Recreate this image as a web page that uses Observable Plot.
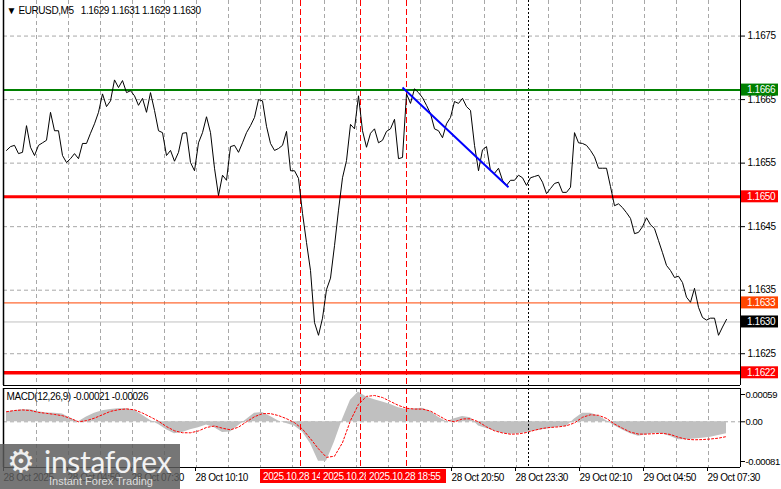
<!DOCTYPE html>
<html><head><meta charset="utf-8">
<script src="https://cdn.jsdelivr.net/npm/d3@7"></script>
<script src="https://cdn.jsdelivr.net/npm/@observablehq/plot@0.6"></script>
<style>
body{margin:0;background:#fff;}
#wrap{position:relative;width:781px;height:489px;overflow:hidden;background:#fff;}
#main,#macd{position:absolute;left:0;}
#main{top:0;}
#macd{top:387px;}
#main svg text,#macd svg text{letter-spacing:-0.4px;}
#logo{position:absolute;left:0;top:444px;width:180px;height:45px;background:rgba(92,92,92,0.84);color:#f0f0f0;overflow:hidden;}
#logo .gear{position:absolute;left:7px;top:2px;font:31px/1 "DejaVu Sans";color:#eee;}
#logo .brand{position:absolute;left:44px;top:-1px;font:30px/1.2 Lato,"Open Sans",sans-serif;color:#f2f2f2;letter-spacing:-0.3px;}
#logo .tag{position:absolute;left:49px;top:31px;font:11px/1.2 "Liberation Sans",Arial,sans-serif;color:#ddd;}
</style></head>
<body>
<div id="wrap"><div id="main"></div><div id="macd"></div>
<div id="logo"><span class="gear">⚙</span><span class="brand">instaforex</span><span class="tag">Instant Forex Trading</span></div>
</div>
<script>
// ---------- data ----------
const symbolTitle = "▼ EURUSD,M5\u00a0\u00a0 1.1629 1.1631 1.1629 1.1630";
const macdTitle = "MACD(12,26,9) -0.00021 -0.00026";

const closeStart = "2025-10-28T02:15:00Z";
const closeStepMinutes = 10;
const closes = [
1.16570,1.16576,1.16578,1.16565,1.16567,1.16609,1.16575,1.16562,1.16578,1.16582,
1.16586,1.16630,1.16601,1.16601,1.16562,1.16551,1.16557,1.16565,1.16557,1.16581,
1.16581,1.16597,1.16612,1.16630,1.16659,1.16639,1.16648,1.16681,1.16669,1.16680,
1.16661,1.16664,1.16656,1.16641,1.16652,1.16630,1.16661,1.16633,1.16601,1.16598,
1.16562,1.16570,1.16553,1.16567,1.16597,1.16598,1.16551,1.16538,1.16582,1.16598,
1.16623,1.16598,1.16542,1.16499,1.16531,1.16523,1.16576,1.16578,1.16567,1.16582,
1.16598,1.16609,1.16622,1.16650,1.16648,1.16608,1.16581,1.16570,1.16573,1.16578,
1.16600,1.16538,1.16538,1.16526,1.16471,1.16425,1.16381,1.16299,1.16279,1.16306,
1.16351,1.16369,1.16420,1.16476,1.16527,1.16554,1.16611,1.16604,1.16656,1.16601,
1.16575,1.16597,1.16604,1.16582,1.16586,1.16600,1.16604,1.16619,1.16557,1.16559,
1.16659,1.16644,1.16667,1.16661,1.16653,1.16641,1.16628,1.16604,1.16601,1.16590,
1.16612,1.16622,1.16647,1.16644,1.16652,1.16639,1.16633,1.16578,1.16538,1.16571,
1.16576,1.16538,1.16534,1.16542,1.16523,1.16515,1.16523,1.16523,1.16531,1.16527,
1.16515,1.16527,1.16529,1.16531,1.16520,1.16502,1.16510,1.16518,1.16520,1.16504,
1.16504,1.16512,1.16598,1.16582,1.16581,1.16578,1.16570,1.16560,1.16542,1.16542,
1.16542,1.16513,1.16483,1.16486,1.16480,1.16472,1.16463,1.16439,1.16441,1.16450,
1.16464,1.16453,1.16447,1.16428,1.16409,1.16389,1.16381,1.16370,1.16372,1.16362,
1.16339,1.16331,1.16353,1.16323,1.16307,1.16303,1.16306,1.16306,1.16279,1.16292,
1.16304];

const macdStart = "2025-10-28T02:15:00Z";
const macdStepMinutes = 20;
const macdHist = [
0.000175,0.000195,0.000212,0.000212,0.000178,0.000158,0.000152,0.000140,0.000065,0.000000,
0.000085,0.000150,0.000195,0.000218,0.000230,0.000230,0.000205,0.000118,0.000025,-0.000048,
-0.000140,-0.000210,-0.000190,-0.000140,-0.000105,-0.000055,-0.000105,-0.000190,-0.000180,-0.000070,
0.000040,0.000150,0.000165,0.000095,0.000015,-0.000030,-0.000075,-0.000180,-0.000390,-0.000700,
-0.000700,-0.000360,0.000040,0.000380,0.000530,0.000440,0.000390,0.000352,0.000306,0.000250,
0.000218,0.000230,0.000240,0.000182,0.000080,0.000000,0.000055,0.000092,0.000071,-0.000075,
-0.000118,-0.000165,-0.000205,-0.000222,-0.000210,-0.000188,-0.000162,-0.000140,-0.000115,-0.000094,
-0.000083,0.000050,0.000150,0.000150,0.000105,0.000020,-0.000070,-0.000145,-0.000212,-0.000258,
-0.000230,-0.000202,-0.000210,-0.000260,-0.000319,-0.000319,-0.000306,-0.000292,-0.000276,-0.000245,
-0.000210];
const macdSignal = [
0.000178,0.000200,0.000210,0.000200,0.000166,0.000150,0.000130,0.000108,0.000060,0.000000,
0.000020,0.000065,0.000125,0.000185,0.000214,0.000228,0.000212,0.000155,0.000085,0.000010,
-0.000085,-0.000160,-0.000194,-0.000195,-0.000162,-0.000100,-0.000075,-0.000114,-0.000142,-0.000095,
0.000000,0.000090,0.000145,0.000145,0.000110,0.000055,-0.000015,-0.000130,-0.000300,-0.000480,
-0.000630,-0.000610,-0.000370,0.000023,0.000310,0.000450,0.000466,0.000430,0.000360,0.000290,
0.000240,0.000225,0.000225,0.000190,0.000110,0.000030,0.000000,0.000050,0.000053,0.000000,
-0.000090,-0.000160,-0.000198,-0.000220,-0.000215,-0.000190,-0.000150,-0.000117,-0.000100,-0.000090,
-0.000070,-0.000020,0.000080,0.000124,0.000115,0.000060,-0.000040,-0.000115,-0.000184,-0.000218,
-0.000218,-0.000210,-0.000205,-0.000225,-0.000275,-0.000310,-0.000319,-0.000315,-0.000305,-0.000290,
-0.000262];

const priceTicks = [1.1625, 1.1635, 1.1645, 1.1655, 1.1665, 1.1675];
const levelPrices = [1.16665, 1.16497, 1.1633, 1.1630, 1.1622];
const levelLabels = ["1.1666", "1.1650", "1.1633", "1.1630", "1.1622"];
const levelNames = ["resistance", "support", "ask", "bid", "target"];
const macdTicks = [0.00059, 0, -0.00081];
const macdTickLabels = ["0.00059", "0.00", "-0.00081"];

const xTickTimes = ["2025-10-28T02:10:00Z","2025-10-28T04:50:00Z","2025-10-28T07:30:00Z","2025-10-28T10:10:00Z",
  "2025-10-28T20:50:00Z","2025-10-28T23:30:00Z","2025-10-29T02:10:00Z","2025-10-29T04:50:00Z","2025-10-29T07:30:00Z"];
const xTickLabels = ["28 Oct 2025","28 Oct 04:50","28 Oct 07:30","28 Oct 10:10",
  "28 Oct 20:50","28 Oct 23:30","29 Oct 02:10","29 Oct 04:50","29 Oct 07:30"];

const markerTimes = ["2025-10-28T14:30:00Z","2025-10-28T17:00:00Z","2025-10-28T18:55:00Z"];
const markerLabels = ["2025.10.28 14:30","2025.10.28 17:00","2025.10.28 18:55"];
const daySeparatorTime = "2025-10-29T00:00:00Z";

const trendTimes = ["2025-10-28T18:45:00Z","2025-10-28T23:10:00Z"];
const trendPrices = [1.16669, 1.16512];

// ---------- build tables ----------
const MIN = 60000;
const closeData = closes.map((v, i) => ({t: new Date(Date.parse(closeStart) + i * closeStepMinutes * MIN), v}));
const macdData = macdHist.map((h, i) => ({t: new Date(Date.parse(macdStart) + i * macdStepMinutes * MIN), hist: h, signal: macdSignal[i]}));
const markerDates = markerTimes.map(s => new Date(s));
const xTickDates = xTickTimes.map(s => new Date(s));
const tickLabelByTime = new Map(xTickDates.map((d, i) => [+d, xTickLabels[i]]));
const trend = [{x1: new Date(trendTimes[0]), y1: trendPrices[0], x2: new Date(trendTimes[1]), y2: trendPrices[1]}];

// ---------- styles ----------
const FONT = '"Liberation Sans", Arial, sans-serif';
const levelStyle = {
  resistance: {stroke: "#008000", width: 2, bg: "#008000", fg: "#ffffff"},
  support: {stroke: "#ff0000", width: 3, bg: "#ff0000", fg: "#ffffff"},
  ask: {stroke: "#ff4500", width: 1, bg: "#ff4500", fg: "#ffffff"},
  bid: {stroke: "#c0c0c0", width: 1, bg: "#000000", fg: "#ffffff"},
  target: {stroke: "#ff0000", width: 3.5, bg: "#ff0000", fg: "#ffffff"}
};
const xDomain = [new Date(Date.UTC(2025, 9, 28, 2, 7, 30)), new Date(Date.UTC(2025, 9, 29, 8, 50))];
const yDomain = [1.16200, 1.16806];
const macdDomain = [-0.00081, 0.00059];
const gridTimes = [];
for (let t = Date.UTC(2025, 9, 28, 3, 30); t < +xDomain[1]; t += 80 * MIN) gridTimes.push(new Date(t));
const grid = () => ({stroke: "#a8a8a8", strokeDasharray: "4,3", strokeWidth: 1, strokeOpacity: 1});
const fmt4 = d3.format(".4f");

// price tags in right margin
const priceTagMark = (index, scales, values, dim) => {
  const g = d3.create("svg:g").attr("font-family", FONT).attr("font-size", 10).attr("text-anchor", "start");
  const x0 = dim.width - dim.marginRight + 1;
  levelPrices.forEach((p, i) => {
    const s = levelStyle[levelNames[i]];
    const y = scales.y(p);
    g.append("rect").attr("x", x0).attr("y", y - 6).attr("width", 37).attr("height", 12).attr("fill", s.bg);
    g.append("text").attr("x", x0 + 6).attr("y", y).attr("dy", "0.36em").attr("fill", s.fg).text(levelLabels[i]);
  });
  return g.node();
};

const main = Plot.plot({
  width: 781, height: 387,
  marginLeft: 3, marginRight: 41, marginTop: 0, marginBottom: 2,
  x: {type: "utc", domain: xDomain, axis: null, label: null},
  y: {domain: yDomain, axis: null, label: null},
  style: {fontFamily: FONT, fontSize: "10px", background: "transparent", color: "black", overflow: "visible"},
  marks: [
    Plot.ruleY(priceTicks, grid()),
    Plot.ruleX(gridTimes, grid()),
    Plot.ruleX(markerDates, {stroke: "#ff0000", strokeDasharray: "6,3", strokeWidth: 1}),
    Plot.ruleX([new Date(daySeparatorTime)], {stroke: "#000", strokeDasharray: "2,2", strokeWidth: 1}),
    ...levelPrices.map((p, i) => Plot.ruleY([p], {stroke: levelStyle[levelNames[i]].stroke, strokeWidth: levelStyle[levelNames[i]].width})),
    Plot.line(closeData, {x: "t", y: "v", stroke: "#000", strokeWidth: 1}),
    Plot.link(trend, {x1: "x1", y1: "y1", x2: "x2", y2: "y2", stroke: "#0000ff", strokeWidth: 2}),
    Plot.ruleX([xDomain[0]], {stroke: "#000", strokeWidth: 1.5}),
    Plot.ruleX([xDomain[1]], {stroke: "#000", strokeWidth: 1}),
    Plot.ruleY([yDomain[0]], {stroke: "#000", strokeWidth: 1}),
    Plot.axisY(priceTicks, {anchor: "right", label: null, tickSize: 4, tickPadding: 3, tickFormat: fmt4, fontSize: 10}),
    priceTagMark,
    Plot.text([symbolTitle], {text: d => d, frameAnchor: "top-left", textAnchor: "start", lineAnchor: "top", dx: 3, dy: 6, fontSize: 10, fill: "#000"})
  ]
});
document.getElementById("main").append(main);

// red time labels for the vertical lines
const markerTagMark = (index, scales, values, dim) => {
  const g = d3.create("svg:g").attr("font-family", FONT).attr("font-size", 10).attr("text-anchor", "start");
  const yb = dim.height - dim.marginBottom + 2;
  markerDates.forEach((d, i) => {
    const x = scales.x(d);
    g.append("rect").attr("x", x - 40).attr("y", yb).attr("width", 80).attr("height", 14).attr("fill", "#ff0000");
    g.append("text").attr("x", x - 37).attr("y", yb + 7).attr("dy", "0.36em").attr("fill", "#fff").text(markerLabels[i]);
  });
  return g.node();
};

const macd = Plot.plot({
  width: 781, height: 102,
  marginLeft: 3, marginRight: 41, marginTop: 1, marginBottom: 22,
  x: {type: "utc", domain: xDomain, axis: null, label: null},
  y: {domain: macdDomain, axis: null, label: null},
  style: {fontFamily: FONT, fontSize: "10px", background: "transparent", color: "black", overflow: "visible"},
  marks: [
    Plot.ruleX(gridTimes, grid()),
    Plot.ruleY([0], grid()),
    Plot.areaY(macdData, {x: "t", y: "hist", fill: "#c0c0c0"}),
    Plot.line(macdData, {x: "t", y: "signal", stroke: "#ff0000", strokeDasharray: "2,2", strokeWidth: 1}),
    Plot.ruleX(markerDates, {stroke: "#ff0000", strokeDasharray: "6,3", strokeWidth: 1}),
    Plot.ruleX([new Date(daySeparatorTime)], {stroke: "#000", strokeDasharray: "2,2", strokeWidth: 1}),
    Plot.ruleX([xDomain[0]], {stroke: "#000", strokeWidth: 1.5}),
    Plot.ruleX([xDomain[1]], {stroke: "#000", strokeWidth: 1}),
    Plot.ruleY([macdDomain[0]], {stroke: "#000", strokeWidth: 1}),
    Plot.ruleY([macdDomain[1]], {stroke: "#000", strokeWidth: 1}),
    ...macdTicks.map((v, i) => Plot.axisY([v], {anchor: "right", label: null, tickSize: 4, tickPadding: 1, fontSize: 9.5,
      tickFormat: () => macdTickLabels[i], dy: i === 0 ? 6 : i === 2 ? -6 : 0})),
    Plot.axisX(xTickDates, {anchor: "bottom", label: null, tickSize: 4, tickPadding: 2, textAnchor: "start", dx: -1, fontSize: 10,
      tickFormat: d => tickLabelByTime.get(+d)}),
    markerTagMark,
    Plot.text([macdTitle], {text: d => d, frameAnchor: "top-left", textAnchor: "start", lineAnchor: "top", dx: 3, dy: 4, fontSize: 10, fill: "#000"})
  ]
});
document.getElementById("macd").append(macd);
</script>
</body></html>
